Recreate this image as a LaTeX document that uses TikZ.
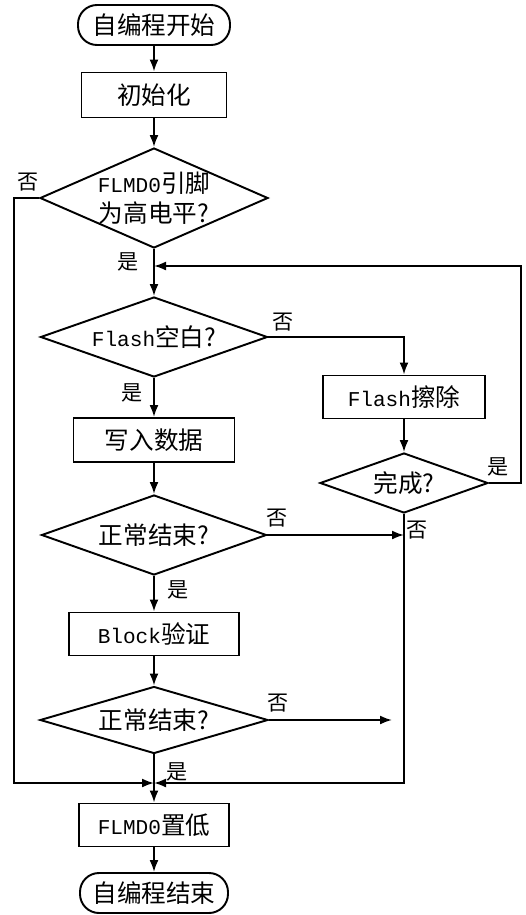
\documentclass[tikz,border=0pt]{standalone}
\usepackage{fontspec}
\setmonofont{Liberation Mono}
\newfontfamily\cjk{Noto Sans CJK SC}
\usetikzlibrary{shapes.geometric,arrows.meta}
\newcommand{\lat}[1]{{\fontsize{12}{14}\selectfont\ttfamily #1}}

\begin{document}
\begin{tikzpicture}[
    font=\cjk\fontsize{14}{17}\selectfont,
    line width=1.1pt,
    terminal/.style={draw, rectangle, rounded corners=0.38cm, minimum height=0.8cm, inner sep=0pt},
    process/.style={draw, rectangle, minimum height=0.86cm, inner sep=0pt},
    decision/.style={draw, diamond, inner sep=0pt},
    branch/.style={font=\cjk\fontsize{12}{14}\selectfont},
    flow/.style={-{Latex[length=2.4mm,width=1.8mm]}}
  ]
    \useasboundingbox (0,0) rectangle (10.52,-18.3);

    % main column
    \node[terminal, minimum width=3.04cm] (start) at (3.08,-0.5) {自编程开始};
    \node[process, minimum width=2.9cm, minimum height=0.9cm] (init) at (3.08,-1.9) {初始化};
    \node[decision, minimum width=4.56cm, minimum height=2cm,
          label={[align=center]center:{\lat{FLMD0}引脚\\为高电平?}}] (flm) at (3.08,-3.96) {};
    \coordinate (j1) at (3.08,-5.32);
    \node[decision, minimum width=4.54cm, minimum height=1.6cm,
          label={center:{\lat{Flash}空白?}}] (blank) at (3.08,-6.74) {};
    \node[process, minimum width=3.22cm, minimum height=0.88cm] (write) at (3.08,-8.8) {写入数据};
    \node[decision, minimum width=4.5cm, minimum height=1.6cm,
          label={center:{正常结束?}}] (ok1) at (3.08,-10.7) {};
    \node[process, minimum width=3.4cm] (block) at (3.08,-12.68) {\lat{Block}验证};
    \node[decision, minimum width=4.56cm, minimum height=1.34cm,
          label={center:{正常结束?}}] (ok2) at (3.08,-14.4) {};
    \coordinate (j2) at (3.08,-15.66);
    \node[process, minimum width=3cm] (low) at (3.08,-16.5) {\lat{FLMD0}置低};
    \node[terminal, minimum width=2.96cm] (end) at (3.08,-17.86) {自编程结束};

    % erase branch
    \node[process, minimum width=3.24cm] (erase) at (8.08,-7.94) {\lat{Flash}擦除};
    \node[decision, minimum width=3.36cm, minimum height=1.2cm,
          label={center:{完成?}}] (done) at (8.08,-9.66) {};

    \coordinate (l1) at (0.28,-15.66);
    \coordinate (r2) at (10.42,-5.32);
    \coordinate (e2) at (7.84,-14.4);

    \draw[flow] (start) -- (init);
    \draw[flow] (init) -- (flm);
    \draw (flm.south) -- (j1);
    \draw[flow] (j1) -- (blank);
    \draw[flow] (blank) -- (write);
    \draw[flow] (write) -- (ok1);
    \draw[flow] (ok1) -- (block);
    \draw[flow] (block) -- (ok2);
    \draw[flow] (ok2) -- (low);
    \draw[flow] (low) -- (end);

    \draw[flow] (blank.east) -| (erase);
    \draw[flow] (erase) -- (done);
    \draw[flow] (done.east) -| (r2) -- (j1);
    \draw[flow] (done.south) |- (j2);
    \draw[flow] (ok1.east) -- (ok1.east -| done.south);
    \draw[flow] (ok2.east) -- (e2);
    \draw[flow] (flm.west) -| (l1) -- (j2);

    % yes / no
    \node[branch] (n1) at (0.56,-3.64) {否};
    \node[branch] (y1) at (2.56,-5.24) {是};
    \node[branch] (n2) at (5.66,-6.44) {否};
    \node[branch] (y2) at (2.64,-7.86) {是};
    \node[branch] (y5) at (9.96,-9.34) {是};
    \node[branch] (n5) at (8.34,-10.6) {否};
    \node[branch] (n3) at (5.54,-10.36) {否};
    \node[branch] (y3) at (3.56,-11.8) {是};
    \node[branch] (n4) at (5.56,-14.06) {否};
    \node[branch] (y4) at (3.54,-15.44) {是};
\end{tikzpicture}
\end{document}
